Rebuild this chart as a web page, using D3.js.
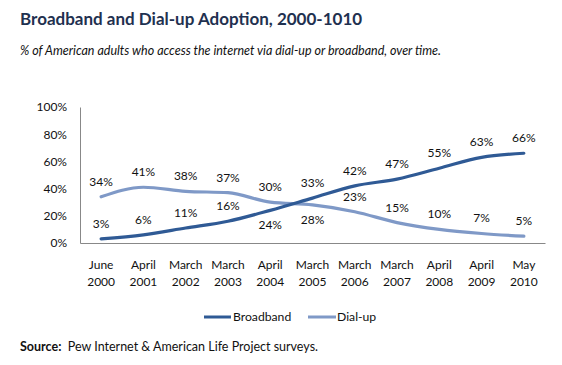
<!DOCTYPE html>
<html><head><meta charset="utf-8">
<script src="https://cdn.jsdelivr.net/npm/d3@7"></script>
<style>body{margin:0;background:#fff}svg{display:block}text{font-family:Lato,"Open Sans",sans-serif}</style>
</head><body><svg id="c" width="562" height="365"></svg>
<script>
const months = ["June","April","March","March","April","March","March","March","April","April","May"];
const years = ["2000","2001","2002","2003","2004","2005","2006","2007","2008","2009","2010"];
const broadband = [3,6,11,16,24,33,42,47,55,63,66];
const dialup = [34,41,38,37,30,28,23,15,10,7,5];
const yTicks = [0,20,40,60,80,100];

const svg = d3.select("#c");
const x = d3.scaleBand().domain(d3.range(years.length)).range([80,545]);
const y = d3.scaleLinear().domain([0,100]).range([243,107]);
const cx = i => x(i) + x.bandwidth()/2;

svg.append("text").attr("x",20).attr("y",25).attr("font-size",17).attr("font-weight","bold")
  .attr("fill","#1f3150").text("Broadband and Dial-up Adoption, 2000-1010");
svg.append("text").attr("x",20).attr("y",55).attr("font-size",12.5).attr("font-style","italic")
  .attr("fill","#111").text("% of American adults who access the internet via dial-up or broadband, over time.");

// y axis
const ya = svg.append("g").attr("transform","translate(80,0)")
  .call(d3.axisLeft(y).tickValues(yTicks).tickSize(0).tickPadding(13).tickFormat(d=>d+"%"));
ya.select(".domain").attr("stroke","#888");
ya.selectAll("text").attr("font-size",12).attr("fill","#111").attr("font-family","Lato,sans-serif");

// x axis
const xa = svg.append("g").attr("transform","translate(0,243)")
  .call(d3.axisBottom(x).tickSize(0).tickFormat(""));
xa.select(".domain").attr("stroke","#888");
const xl = svg.append("g");
years.forEach((yr,i)=>{
  const t = xl.append("text").attr("x",cx(i)).attr("text-anchor","middle").attr("font-size",12).attr("fill","#111");
  t.append("tspan").attr("x",cx(i)).attr("y",269).text(months[i]);
  t.append("tspan").attr("x",cx(i)).attr("y",286).text(yr);
});

const series = [
  {name:"Broadband", vals:broadband, color:"#2f5a95", below:[4]},
  {name:"Dial-up", vals:dialup, color:"#7f99c7", below:[5]}
];
const line = d3.line().x((d,i)=>cx(i)).y(d=>y(d)).curve(d3.curveMonotoneX);
series.slice().reverse().forEach(s=>{
  svg.append("path").attr("d",line(s.vals)).attr("fill","none").attr("stroke",s.color)
    .attr("stroke-width",3.2).attr("stroke-linecap","round");
});
series.forEach(s=>{
  svg.append("g").selectAll("text").data(s.vals).join("text")
    .attr("x",(d,i)=>cx(i)).attr("y",(d,i)=> s.below.includes(i) ? y(d)+19 : y(d)-11)
    .attr("text-anchor","middle").attr("font-size",12).attr("fill","#111").text(d=>d+"%");
});

// legend
const lg = svg.append("g");
lg.append("line").attr("x1",204).attr("x2",231).attr("y1",317).attr("y2",317).attr("stroke",series[0].color).attr("stroke-width",3);
lg.append("text").attr("x",233).attr("y",321).attr("font-size",12.2).attr("fill","#111").text("Broadband");
lg.append("line").attr("x1",308).attr("x2",336).attr("y1",317).attr("y2",317).attr("stroke",series[1].color).attr("stroke-width",3);
lg.append("text").attr("x",337).attr("y",321).attr("font-size",12.2).attr("fill","#111").text("Dial-up");

const src = svg.append("text").attr("x",20).attr("y",351).attr("font-size",12.5).attr("fill","#111");
src.append("tspan").attr("font-weight","bold").text("Source:");
src.append("tspan").text("  Pew Internet & American Life Project surveys.").attr("xml:space","preserve");
</script></body></html>
